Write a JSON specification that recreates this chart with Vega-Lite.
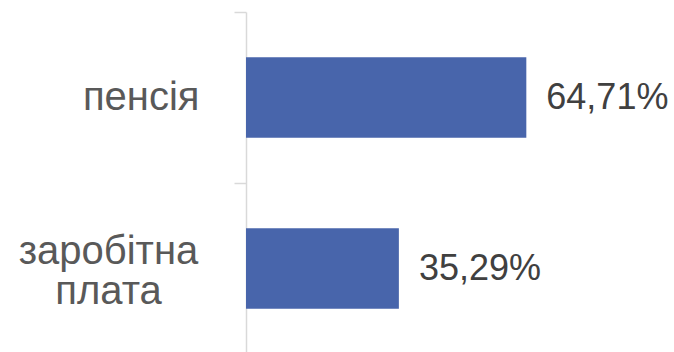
{
  "$schema": "https://vega.github.io/schema/vega-lite/v6.json",
  "width": 428,
  "height": 342,
  "padding": {"top": -8, "left": 0, "right": 0, "bottom": 0},
  "background": "white",
  "data": {
    "values": [
      {"category": "пенсія", "value": 64.71, "label": "64,71%"},
      {"category": "заробітна плата", "value": 35.29, "label": "35,29%"}
    ]
  },
  "encoding": {
    "y": {
      "field": "category",
      "type": "nominal",
      "sort": null,
      "scale": {"paddingInner": 0, "paddingOuter": 0},
      "axis": {
        "title": null,
        "labelExpr": "split(datum.label, ' ')",
        "labelFont": "Liberation Sans",
        "labelFontSize": 40,
        "labelColor": "#595959",
        "labelLineHeight": 40,
        "labelPadding": {"condition": {"test": "datum.value === 'пенсія'", "value": 35}, "value": 126},
        "labelAlign": {"condition": {"test": "datum.value === 'пенсія'", "value": "right"}, "value": "center"},
        "labelOffset": {"condition": {"test": "datum.value === 'пенсія'", "value": 0}, "value": -17},
        "labelBaseline": "middle",
        "tickBand": "extent",
        "tickSize": 12,
        "tickColor": "#d9d9d9",
        "tickWidth": 1.5,
        "domainColor": "#d9d9d9",
        "domainWidth": 1.5,
        "grid": false,
        "minExtent": 246,
        "maxExtent": 246
      }
    },
    "x": {
      "field": "value",
      "type": "quantitative",
      "scale": {"domain": [0, 98.8], "nice": false},
      "axis": null
    }
  },
  "layer": [
    {"mark": {"type": "bar", "color": "#4865AB", "height": {"band": 0.47}}},
    {
      "mark": {
        "type": "text",
        "align": "left",
        "baseline": "middle",
        "dx": 20,
        "font": "Liberation Sans",
        "fontSize": 36,
        "color": "#404040"
      },
      "encoding": {"text": {"field": "label", "type": "nominal"}}
    }
  ],
  "config": {"view": {"stroke": null}}
}
